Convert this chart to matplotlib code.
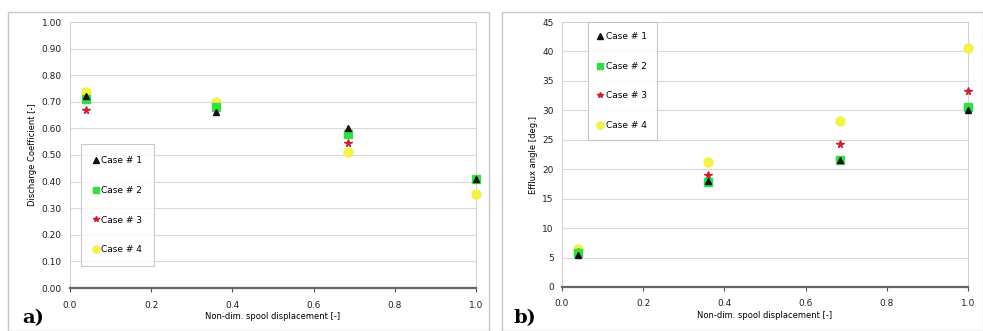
import matplotlib
matplotlib.use('Agg')
import matplotlib.pyplot as plt
from matplotlib.patches import Rectangle

# x positions (non-dimensional spool displacement)
x_pos = [0.04, 0.36, 0.685, 1.0]
cases = ['Case # 1', 'Case # 2', 'Case # 3', 'Case # 4']

# discharge coefficient per case
cd_case1 = [0.72, 0.66, 0.60, 0.41]
cd_case2 = [0.71, 0.68, 0.58, 0.41]
cd_case3 = [0.67, 0.68, 0.545, 0.41]
cd_case4 = [0.735, 0.70, 0.51, 0.355]

# efflux angle per case [deg]
ang_case1 = [5.5, 18.0, 21.5, 30.0]
ang_case2 = [5.8, 17.8, 21.6, 30.5]
ang_case3 = [6.0, 19.0, 24.2, 33.2]
ang_case4 = [6.5, 21.2, 28.2, 40.5]

styles = [
    dict(marker='^', color='#111111', ms=5),
    dict(marker='s', color='#33dd44', ms=5.5),
    dict(marker='*', color='#cc2233', ms=5.5),
    dict(marker='o', color='#f2f24a', ms=6.5),
]

fig = plt.figure(figsize=(9.83, 3.31), dpi=100)

# outer chart frames
for x0, w in [(8, 481), (502, 481)]:
    fig.patches.append(Rectangle((x0 / 983, 0), w / 983, 1 - 12 / 331,
                                 transform=fig.transFigure, fill=False,
                                 edgecolor='#c8c8c8', lw=1))

ax1 = fig.add_axes([70 / 983, 1 - 288 / 331, 406 / 983, 266 / 331])
ax2 = fig.add_axes([562 / 983, 1 - 287 / 331, 406 / 983, 265 / 331])


def style_axes(ax):
    ax.grid(axis='y', color='#dadada', lw=0.8)
    ax.set_axisbelow(True)
    for s in ['top', 'right', 'left']:
        ax.spines[s].set_color('#d0d0d0')
        ax.spines[s].set_linewidth(0.7)
    ax.spines['bottom'].set_color('#666666')
    ax.spines['bottom'].set_linewidth(1.6)
    ax.tick_params(axis='both', labelsize=6.5, labelcolor='#222222',
                   color='#555555', length=3)
    ax.tick_params(axis='x', pad=6)
    ax.tick_params(axis='y', length=0, pad=6)
    ax.set_xlim(0, 1.0)
    ax.set_xticks([0.0, 0.2, 0.4, 0.6, 0.8, 1.0])
    ax.set_xticklabels(['0.0', '0.2', '0.4', '0.6', '0.8', '1.0'])
    ax.set_xlabel('Non-dim. spool displacement [-]', fontsize=6, labelpad=2)


series1 = [cd_case1, cd_case2, cd_case3, cd_case4]
series2 = [ang_case1, ang_case2, ang_case3, ang_case4]

for i in range(4):
    st = styles[i]
    ax1.plot(x_pos, series1[i], ls='none', marker=st['marker'], color=st['color'],
             ms=st['ms'], label=cases[i], clip_on=False, zorder=3 + (3 - i))
    ax2.plot(x_pos, series2[i], ls='none', marker=st['marker'], color=st['color'],
             ms=st['ms'], label=cases[i], clip_on=False, zorder=3 + (3 - i))

style_axes(ax1)
ax1.set_ylim(0, 1.0)
ax1.set_yticks([i / 10 for i in range(11)])
ax1.set_yticklabels(['%.2f' % (i / 10) for i in range(11)])
ax1.set_ylabel('Discharge Coefficient [-]', fontsize=6, labelpad=3)

style_axes(ax2)
ax2.set_ylim(0, 45)
ax2.set_yticks(range(0, 50, 5))
ax2.set_ylabel('Efflux angle [deg.]', fontsize=6, labelpad=3)

leg_kw = dict(fontsize=6.5, frameon=True, fancybox=False, edgecolor='#bbbbbb',
              labelspacing=2.3, handlelength=0.6, handletextpad=0.3,
              markerscale=0.8)
leg1 = ax1.legend(loc='upper left', bbox_to_anchor=(0.028, 0.54),
                  borderpad=1.3, borderaxespad=0.0, **leg_kw)
leg2 = ax2.legend(loc='upper left', bbox_to_anchor=(0.063, 1.0),
                  borderpad=1.1, borderaxespad=0.0, **leg_kw)
for leg in (leg1, leg2):
    leg.get_frame().set_linewidth(0.8)

fig.text(22 / 983, 1 - 318 / 331, 'a)', fontsize=14, fontweight='bold',
         family='DejaVu Serif', va='center')
fig.text(514 / 983, 1 - 318 / 331, 'b)', fontsize=14, fontweight='bold',
         family='DejaVu Serif', va='center')

fig.savefig('out.png', dpi=100)
